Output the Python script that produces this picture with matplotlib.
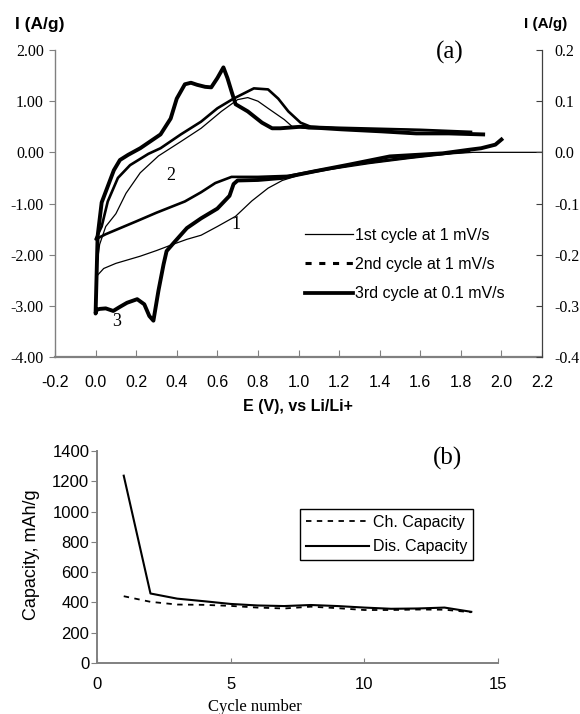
import matplotlib
matplotlib.use('Agg')
import matplotlib.pyplot as plt
from matplotlib.lines import Line2D

SANS = 'Liberation Sans'
SERIF = 'Liberation Serif'

# ---------------- (a) cyclic voltammetry (left axis, A/g) ----------------
# 1st cycle at 1 mV/s: cathodic then anodic sweep
c1_E = [2.20, 1.86, 1.75, 1.55, 1.35, 1.15, 1.00, 0.92, 0.85, 0.77, 0.69, 0.60,
        0.52, 0.45, 0.38, 0.30, 0.22, 0.10, 0.04, 0.01, 0.00,
        0.01, 0.02, 0.05, 0.10, 0.15, 0.22, 0.31, 0.42, 0.52, 0.62, 0.70, 0.75,
        0.80, 0.85, 0.93, 0.97, 1.05, 1.20, 1.40, 1.60, 1.84]
c1_I = [0.00, 0.00, -0.03, -0.12, -0.22, -0.34, -0.45, -0.55, -0.70, -0.95, -1.25, -1.45,
        -1.62, -1.70, -1.80, -1.92, -2.03, -2.17, -2.27, -2.40, -2.43,
        -2.10, -1.80, -1.45, -1.20, -0.80, -0.40, -0.07, 0.21, 0.47, 0.80, 1.03, 1.07,
        1.00, 0.86, 0.64, 0.50, 0.46, 0.46, 0.46, 0.44, 0.38]

# 2nd cycle at 1 mV/s
c2_E = [1.84, 1.70, 1.50, 1.30, 1.10, 0.95, 0.80, 0.67, 0.59, 0.52, 0.44,
        0.30, 0.20, 0.11, 0.05, 0.01, 0.00,
        0.03, 0.06, 0.11, 0.17, 0.26, 0.32, 0.42, 0.52, 0.60, 0.68, 0.75, 0.78,
        0.85, 0.90, 0.95, 1.01, 1.06, 1.20, 1.40, 1.60, 1.85]
c2_I = [0.02, -0.03, -0.12, -0.22, -0.35, -0.46, -0.48, -0.48, -0.60, -0.78, -0.96,
        -1.18, -1.35, -1.50, -1.60, -1.68, -1.70,
        -1.45, -0.96, -0.50, -0.25, -0.03, 0.08, 0.35, 0.60, 0.86, 1.05, 1.19, 1.25,
        1.23, 1.05, 0.80, 0.58, 0.50, 0.48, 0.46, 0.44, 0.40]

# 3rd cycle at 0.1 mV/s (right axis, A/g)
c3_E = [2.00, 1.97, 1.90, 1.84, 1.71, 1.45, 1.25, 1.08, 0.92, 0.80, 0.70, 0.68,
        0.66, 0.60, 0.52, 0.45, 0.385, 0.35, 0.335, 0.31, 0.285, 0.265, 0.24, 0.205,
        0.155, 0.12, 0.087, 0.05, 0.02, 0.005, 0.00,
        0.005, 0.01, 0.03, 0.09, 0.12, 0.16, 0.22, 0.32, 0.37, 0.40, 0.44, 0.47,
        0.50, 0.54, 0.57, 0.60, 0.63, 0.65, 0.67, 0.69, 0.75, 0.82, 0.87, 0.91,
        1.01, 1.21, 1.41, 1.58, 1.74, 1.91]
c3_I = [0.025, 0.015, 0.008, 0.005, -0.002, -0.008, -0.024, -0.037, -0.050, -0.054, -0.055, -0.062,
        -0.085, -0.110, -0.129, -0.148, -0.177, -0.193, -0.219, -0.270, -0.329, -0.320, -0.297, -0.287,
        -0.294, -0.302, -0.310, -0.305, -0.306, -0.308, -0.315,
        -0.240, -0.164, -0.098, -0.035, -0.015, -0.005, 0.008, 0.035, 0.066, 0.105, 0.133, 0.136,
        0.132, 0.128, 0.127, 0.145, 0.166, 0.145, 0.119, 0.094, 0.080, 0.058, 0.047, 0.047,
        0.050, 0.045, 0.041, 0.037, 0.037, 0.035]

legend_a = ['1st cycle at 1 mV/s', '2nd cycle at 1 mV/s', '3rd cycle at 0.1 mV/s']

# ---------------- (b) capacity vs cycle ----------------
cycle_no = [1, 2, 3, 4, 5, 6, 7, 8, 9, 10, 11, 12, 13, 14]
ch_cap = [441, 404, 386, 384, 377, 366, 360, 372, 362, 350, 350, 353, 352, 335]
dis_cap = [1237, 459, 425, 408, 390, 380, 376, 383, 376, 366, 358, 360, 366, 338]
legend_b = ['Ch. Capacity', 'Dis. Capacity']

W, H = 580, 714
fig = plt.figure(figsize=(W / 100, H / 100), dpi=100)


def fx(px):
    return px / W


def fy(py):
    return 1 - py / H


GRAY = '#808080'

# ---------- top panel ----------
ax = fig.add_axes([fx(55), fy(357), fx(542) - fx(55), fy(50) - fy(357)])
ax.set_xlim(-0.2, 2.2)
ax.set_ylim(-4, 2)
ax.plot(c1_E, c1_I, color='black', lw=0.9)
ax.plot(c2_E, c2_I, color='black', lw=1.9)
ax2 = ax.twinx()
ax2.set_ylim(-0.4, 0.2)
ax2.plot(c3_E, c3_I, color='black', lw=2.8, solid_joinstyle='round')

ax.spines['top'].set_visible(False)
ax2.spines['top'].set_visible(False)
ax.spines['left'].set_color(GRAY)
ax.spines['bottom'].set_color(GRAY)
ax.spines['bottom'].set_linewidth(1.6)
ax.spines['left'].set_linewidth(1.0)
ax2.spines['right'].set_color('#404040')
ax2.spines['left'].set_visible(False)
ax2.spines['bottom'].set_visible(False)

xt = [-0.2 + 0.2 * i for i in range(13)]
ax.set_xticks(xt, ['%.1f' % v for v in xt], fontfamily=SANS, fontsize=11.5)
yt = [-4, -3, -2, -1, 0, 1, 2]
ax.set_yticks(yt, ['%.2f' % v for v in yt], fontfamily=SERIF, fontsize=11.5)
yt2 = [-0.4, -0.3, -0.2, -0.1, 0.0, 0.1, 0.2]
ax2.set_yticks(yt2, ['%.1f' % v for v in yt2], fontfamily=SERIF, fontsize=11.5)
ax.tick_params(axis='x', direction='in', length=5, color=GRAY, pad=13)
ax.tick_params(axis='y', direction='out', length=4, color=GRAY, pad=4)
ax2.tick_params(axis='y', direction='in', length=4.5, color='#404040', pad=9)

fig.text(fx(40), fy(24), 'I (A/g)', fontfamily=SANS, fontweight='bold',
         fontsize=12.5, ha='center', va='center')
fig.text(fx(546), fy(24), 'I (A/g)', fontfamily=SANS, fontweight='bold',
         fontsize=11, ha='center', va='center')
fig.text(fx(450), fy(52), '(a)', fontfamily=SERIF, fontsize=18, ha='center', va='center')
fig.text(fx(298), fy(407), 'E (V), vs Li/Li+', fontfamily=SANS, fontweight='bold',
         fontsize=11.5, ha='center', va='center')

ax.text(0.69, -1.42, '1', fontfamily=SERIF, fontsize=13, ha='center', va='center')
ax.text(0.369, -0.45, '2', fontfamily=SERIF, fontsize=13, ha='center', va='center')
ax.text(0.106, -3.30, '3', fontfamily=SERIF, fontsize=13, ha='center', va='center')

h_a = [Line2D([], [], color='black', lw=0.9),
       Line2D([], [], color='black', lw=2.2, linestyle=(0, (2, 2.5))),
       Line2D([], [], color='black', lw=2.7)]
ax2.legend(h_a, legend_a, loc='center left', bbox_to_anchor=(fx(305), fy(264.5)),
           bbox_transform=fig.transFigure, frameon=False, borderpad=0, borderaxespad=0,
           handlelength=3.0, handletextpad=0.15, labelspacing=0.9,
           prop={'family': SANS, 'size': 11.5})

# ---------- bottom panel ----------
bx = fig.add_axes([fx(97), fy(663), fx(498) - fx(97), fy(451) - fy(663)])
bx.set_xlim(0, 15)
bx.set_ylim(0, 1400)
bx.plot(cycle_no, ch_cap, color='black', lw=1.3, linestyle=(0, (3, 3)))
bx.plot(cycle_no, dis_cap, color='black', lw=1.5)
bx.spines['top'].set_visible(False)
bx.spines['right'].set_visible(False)
bx.spines['left'].set_color(GRAY)
bx.spines['bottom'].set_color(GRAY)
bx.spines['left'].set_linewidth(1.4)
bx.spines['bottom'].set_linewidth(1.4)
bx.set_xticks([0, 5, 10, 15], ['0', '5', '10', '15'], fontfamily=SANS, fontsize=12)
byt = list(range(0, 1401, 200))
bx.set_yticks(byt, [str(v) for v in byt], fontfamily=SANS, fontsize=12)
bx.tick_params(axis='x', direction='in', length=3.5, color=GRAY, pad=10)
bx.tick_params(axis='y', direction='out', length=4, color=GRAY, pad=1.5)

fig.text(fx(32), fy(555), 'Capacity, mAh/g', fontfamily=SANS, fontsize=13,
         rotation=90, ha='center', va='center')
fig.text(fx(255), fy(707), 'Cycle number', fontfamily=SERIF, fontsize=12,
         ha='center', va='center')
fig.text(fx(448), fy(458), '(b)', fontfamily=SERIF, fontsize=18, ha='center', va='center')

h_b = [Line2D([], [], color='black', lw=1.3, linestyle=(0, (3, 3))),
       Line2D([], [], color='black', lw=1.5)]
leg = bx.legend(h_b, legend_b, loc='upper left', bbox_to_anchor=(fx(300), fy(509)),
                bbox_transform=fig.transFigure, frameon=True, fancybox=False,
                edgecolor='black', framealpha=1, borderpad=0.35, borderaxespad=0,
                handlelength=4.0, handletextpad=0.2, labelspacing=0.6,
                prop={'family': SANS, 'size': 11.5})
leg.get_frame().set_linewidth(1.0)

fig.savefig('out.png', dpi=100)
